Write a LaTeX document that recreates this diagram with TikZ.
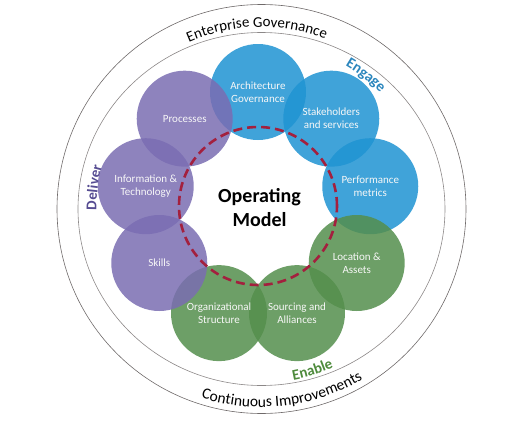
\documentclass[tikz,border=0pt]{standalone}
\usepackage{fontspec}
\setmainfont{Carlito}
\usetikzlibrary{decorations.text}
\definecolor{plum}{HTML}{7A6DB2}
\definecolor{sky}{HTML}{1F93D2}
\definecolor{leaf}{HTML}{548E4C}
\definecolor{dashred}{HTML}{A3203E}
\definecolor{engageblue}{HTML}{2B86BD}
\definecolor{deliverpurple}{HTML}{564C92}
\definecolor{enablegreen}{HTML}{4D8A3B}
\definecolor{ringgray}{HTML}{6F6A6A}

\begin{document}
\begin{tikzpicture}[x=1pt,y=1pt,
    petal/.style={circle,minimum size=96pt,inner sep=0pt,fill opacity=0.85,text opacity=1,
        text=white!94!gray,align=center,font=\fontsize{11}{13}\selectfont},
    ringtext/.style={decorate,decoration={text along path,text align=center,text={#1}}}]
        \useasboundingbox (-261.5,-223) rectangle (261.5,209);
        \draw[ringgray,line width=0.6pt] (0,0) circle[radius=204.5pt];
        \draw[ringgray!80,line width=0.6pt] (0,0) ellipse[x radius=183.5pt,y radius=176.5pt];
        \path[ringtext={|\fontsize{15}{18}\selectfont|Enterprise Governance}] (136.5:182pt) arc[start angle=136.5,end angle=46.5,radius=182pt];
        \path[ringtext={|\fontsize{15.5}{18}\selectfont|Continuous Improvements}] (231.5:198pt) arc[start angle=231.5,end angle=321.5,radius=198pt];
        \path[ringtext={|\fontsize{15}{18}\selectfont\bfseries\color{engageblue}|Engage}] (82:166pt) arc[start angle=82,end angle=22,radius=166pt];
        \path[ringtext={|\fontsize{15}{18}\selectfont\bfseries\color{deliverpurple}|Deliver}] (202.7:165pt) arc[start angle=202.7,end angle=142.7,radius=165pt];
        \path[ringtext={|\fontsize{15}{18}\selectfont\bfseries\color{enablegreen}|Enable}] (257.5:174pt) arc[start angle=257.5,end angle=317.5,radius=174pt];

        \coordinate (ring) at (-3.5,3);
        \foreach \t/\c [count=\i from 0] in {{Architecture\\Governance}/sky,{Stakeholders\\and services}/sky,{Performance\\metrics}/sky,{Location \&\\Assets}/leaf,{Sourcing and\\Alliances}/leaf,{Organizational\\Structure}/leaf,Skills/plum,{Information \&\\Technology}/plum,Processes/plum}
            \node[petal,fill=\c] (p\i) at ([shift={(90-40*\i:114pt)}]ring) {\t};
        \draw[dashred,line width=2.6pt,dash pattern=on 9pt off 5pt] (ring) circle[radius=79pt];
        \node[font=\fontsize{20}{24}\selectfont\bfseries,align=center] (om) at (-2,1) {Operating\\Model};

    \end{tikzpicture}
\end{document}
